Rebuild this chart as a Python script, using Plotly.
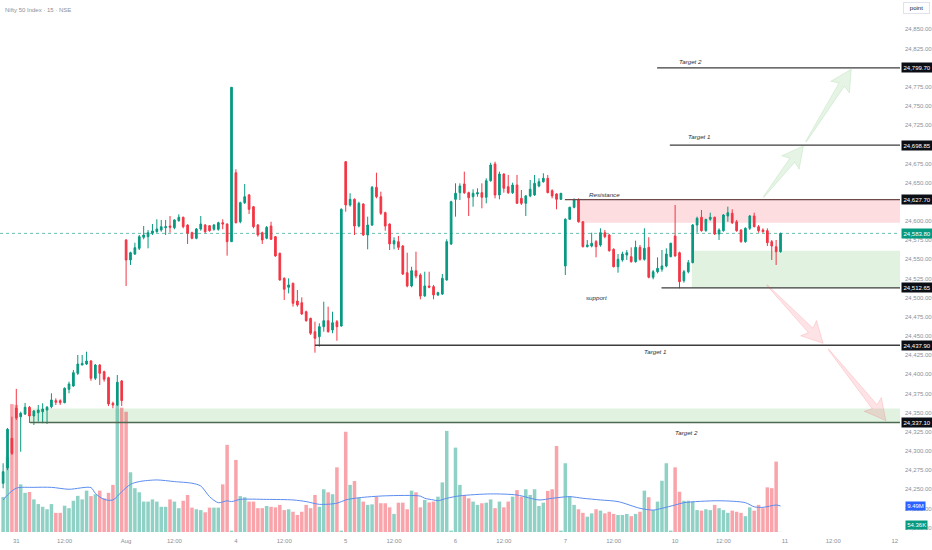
import math
import plotly.graph_objects as go

TITLE = "Nifty 50 Index · 15 · NSE"

# bar index (15-minute bars), 0 = first bar of "31"
BAR_INDEX = list(range(-3, 175))

OPEN = [24257.8, 24277.8, 24316.5, 24356.0, 24344.5, 24348.2, 24357.0, 24345.6, 24349.9, 24351.2,
        24353.4, 24357.7, 24365.6, 24365.6, 24363.0, 24380.4, 24384.7, 24401.3, 24412.1, 24413.4,
        24417.3, 24394.8, 24412.1, 24403.4, 24395.6, 24362.2, 24360.0, 24391.3,
        24575.2, 24549.1, 24556.9, 24564.3, 24578.7, 24579.5, 24583.9, 24586.0, 24588.2, 24591.2,
        24593.4, 24591.2, 24600.3, 24604.8, 24594.7, 24584.7, 24577.4, 24589.5, 24594.7, 24593.8,
        24589.1, 24589.1, 24597.7, 24596.0, 24573.0,
        24662.9, 24599.0, 24623.8, 24633.9, 24618.6, 24594.7, 24584.7, 24577.4, 24593.4, 24579.5,
        24557.8, 24525.2, 24513.5, 24518.7, 24495.6, 24493.4, 24481.6, 24473.0, 24455.6, 24449.0,
        24462.1, 24469.9, 24457.8, 24468.6, 24463.0,
        24677.3, 24620.8, 24628.2, 24593.4, 24622.1, 24581.7, 24594.7, 24643.9, 24631.6, 24610.8,
        24596.0, 24570.0, 24573.0, 24567.3, 24532.5, 24515.2, 24535.1, 24529.5, 24502.1, 24515.2,
        24514.3, 24503.5, 24504.7, 24523.0, 24570.0,
        24628.2, 24636.9, 24648.2, 24636.9, 24631.6, 24635.2, 24636.9, 24630.9, 24652.5, 24674.3,
        24633.9, 24661.2, 24644.7, 24636.9, 24646.9, 24629.5, 24623.0, 24632.6, 24633.9, 24645.6,
        24651.2, 24655.6, 24639.5, 24635.2, 24628.2,
        24541.3, 24602.2, 24617.8, 24627.3, 24599.0, 24566.4, 24567.3, 24573.0, 24568.6, 24584.7,
        24581.7, 24563.0, 24540.3, 24549.1, 24555.6, 24553.4, 24546.9, 24565.6, 24550.0, 24565.6,
        24526.5, 24533.8, 24537.0, 24541.3, 24553.4,
        24580.4, 24558.6, 24522.1, 24533.8, 24545.6, 24594.7, 24604.8, 24587.3, 24602.2, 24604.8,
        24583.0, 24587.3, 24606.5, 24610.0, 24599.0, 24588.2, 24573.0, 24590.4, 24606.5, 24592.5,
        24588.2, 24587.3, 24573.0, 24566.4, 24559.9]

HIGH = [24283.9, 24330.0, 24344.7, 24381.0, 24351.2, 24362.6, 24358.6, 24353.4, 24360.0, 24362.2,
        24358.6, 24375.2, 24368.7, 24367.4, 24383.0, 24390.3, 24405.6, 24425.2, 24425.2, 24429.5,
        24418.6, 24413.4, 24413.4, 24404.7, 24396.9, 24364.3, 24399.1, 24392.6,
        24576.1, 24559.9, 24571.6, 24581.7, 24593.4, 24588.2, 24596.0, 24602.2, 24601.3, 24601.3,
        24606.5, 24602.2, 24608.7, 24605.6, 24595.6, 24586.0, 24590.8, 24606.5, 24596.0, 24594.7,
        24596.0, 24599.0, 24602.2, 24596.9, 24774.7,
        24667.4, 24625.1, 24648.2, 24635.2, 24619.5, 24596.0, 24586.0, 24593.4, 24599.0, 24580.4,
        24558.6, 24526.5, 24525.2, 24519.5, 24510.0, 24500.4, 24483.0, 24473.8, 24468.6, 24466.5,
        24494.7, 24488.2, 24481.6, 24470.8, 24616.5,
        24678.2, 24636.1, 24629.5, 24625.1, 24623.0, 24605.6, 24645.6, 24662.9, 24638.2, 24612.1,
        24596.9, 24578.7, 24580.4, 24568.6, 24558.6, 24540.3, 24559.9, 24531.7, 24533.8, 24533.8,
        24516.5, 24507.7, 24530.8, 24576.1, 24626.4,
        24649.1, 24649.1, 24664.3, 24638.2, 24641.3, 24642.6, 24649.1, 24655.6, 24676.0, 24677.3,
        24664.3, 24662.2, 24660.0, 24649.9, 24660.0, 24640.4, 24633.9, 24653.4, 24660.0, 24655.6,
        24662.2, 24660.0, 24641.3, 24636.1, 24636.1,
        24603.5, 24618.6, 24629.5, 24629.5, 24599.9, 24575.2, 24584.7, 24575.2, 24590.4, 24588.2,
        24583.0, 24564.3, 24556.9, 24559.9, 24562.1, 24565.6, 24574.3, 24568.6, 24590.4, 24578.7,
        24536.0, 24552.6, 24562.1, 24564.3, 24571.6,
        24620.8, 24559.9, 24536.0, 24549.1, 24596.0, 24605.6, 24614.3, 24602.2, 24610.8, 24605.6,
        24590.4, 24609.1, 24618.6, 24615.2, 24601.3, 24589.1, 24591.7, 24607.8, 24610.8, 24594.7,
        24590.4, 24590.4, 24575.2, 24575.2, 24584.7]

LOW = [24251.3, 24275.0, 24294.7, 24340.4, 24299.0, 24346.9, 24336.5, 24333.9, 24338.2, 24336.1,
       24335.2, 24355.7, 24360.0, 24360.0, 24362.2, 24375.2, 24383.8, 24399.1, 24412.1, 24412.1,
       24391.6, 24392.6, 24386.0, 24390.3, 24358.6, 24355.7, 24358.6, 24358.6,
       24515.2, 24542.6, 24555.6, 24562.1, 24576.1, 24564.3, 24581.7, 24584.7, 24586.0, 24581.7,
       24584.7, 24589.1, 24599.0, 24590.4, 24570.0, 24576.1, 24576.1, 24587.3, 24583.9, 24586.0,
       24587.3, 24587.3, 24589.1, 24554.7, 24573.0,
       24596.9, 24596.9, 24622.1, 24609.1, 24590.4, 24579.5, 24570.0, 24576.1, 24575.2, 24553.4,
       24522.1, 24496.9, 24505.6, 24488.2, 24488.2, 24477.4, 24468.6, 24451.3, 24428.2, 24436.0,
       24455.6, 24454.3, 24453.5, 24443.8, 24462.1,
       24612.1, 24618.6, 24581.7, 24591.7, 24580.4, 24563.0, 24593.4, 24629.5, 24607.8, 24587.3,
       24562.1, 24563.0, 24562.1, 24529.5, 24513.5, 24513.5, 24525.2, 24497.8, 24501.2, 24512.2,
       24497.8, 24502.1, 24503.5, 24522.1, 24568.6,
       24605.6, 24627.3, 24635.2, 24606.5, 24618.6, 24631.6, 24616.5, 24623.0, 24651.2, 24629.5,
       24628.2, 24636.9, 24635.2, 24635.2, 24622.1, 24620.8, 24606.5, 24630.9, 24632.6, 24643.9,
       24649.9, 24636.1, 24629.5, 24615.2, 24627.3,
       24529.5, 24601.3, 24616.5, 24597.7, 24565.6, 24565.6, 24565.6, 24552.6, 24566.4, 24577.4,
       24559.9, 24539.5, 24532.5, 24546.9, 24549.1, 24545.6, 24545.6, 24548.2, 24548.2, 24525.2,
       24523.9, 24531.7, 24533.8, 24539.5, 24552.6,
       24553.4, 24512.2, 24519.5, 24531.7, 24544.8, 24584.7, 24586.0, 24586.0, 24600.3, 24581.7,
       24575.2, 24586.0, 24599.0, 24596.0, 24586.0, 24571.6, 24571.6, 24588.2, 24591.7, 24584.7,
       24584.7, 24567.3, 24549.1, 24542.6, 24558.6]

CLOSE = [24273.0, 24328.3, 24296.9, 24343.0, 24349.1, 24357.0, 24345.6, 24352.1, 24353.4, 24354.7,
         24357.0, 24366.5, 24363.5, 24363.0, 24381.7, 24387.3, 24402.1, 24413.4, 24414.3, 24417.3,
         24394.8, 24412.1, 24401.3, 24393.5, 24361.3, 24360.0, 24389.6, 24365.6,
         24549.1, 24558.6, 24565.1, 24579.5, 24581.7, 24584.7, 24586.9, 24589.5, 24592.5, 24592.5,
         24591.7, 24601.3, 24604.8, 24592.5, 24583.9, 24577.4, 24589.5, 24596.0, 24586.0, 24587.3,
         24594.7, 24597.7, 24596.0, 24573.0, 24774.3,
         24597.7, 24623.8, 24631.6, 24615.2, 24592.5, 24581.7, 24575.2, 24591.7, 24576.1, 24554.3,
         24523.0, 24510.9, 24516.5, 24492.6, 24490.4, 24478.7, 24469.9, 24453.5, 24447.0, 24462.1,
         24469.9, 24455.6, 24467.3, 24462.1, 24615.2,
         24620.8, 24628.2, 24593.4, 24623.0, 24581.7, 24594.7, 24643.9, 24631.6, 24610.0, 24593.4,
         24570.0, 24574.3, 24565.6, 24530.8, 24515.2, 24535.1, 24528.2, 24502.1, 24515.2, 24513.5,
         24503.5, 24506.5, 24525.2, 24573.0, 24625.1,
         24636.1, 24645.6, 24636.9, 24630.3, 24636.1, 24636.9, 24630.9, 24652.5, 24673.0, 24633.9,
         24661.2, 24642.6, 24636.9, 24646.9, 24623.0, 24623.0, 24632.6, 24641.3, 24649.1, 24651.2,
         24655.6, 24636.9, 24632.6, 24628.2, 24636.1,
         24602.2, 24617.8, 24627.3, 24599.0, 24566.4, 24568.6, 24570.9, 24566.4, 24584.7, 24579.5,
         24561.2, 24540.3, 24550.0, 24556.9, 24558.6, 24546.9, 24565.6, 24550.0, 24564.3, 24526.5,
         24533.8, 24538.2, 24541.3, 24556.9, 24570.9,
         24554.3, 24520.8, 24533.8, 24545.6, 24594.7, 24603.5, 24587.3, 24602.2, 24604.8, 24583.0,
         24588.2, 24607.8, 24610.8, 24597.7, 24587.3, 24573.0, 24590.4, 24606.5, 24592.5, 24587.3,
         24586.0, 24571.6, 24567.3, 24559.9, 24583.8]

# volume, millions
VOLUME_M = [12.8, 27.5, 46.7, 46.4, 17.4, 14.3, 14.6, 11.9, 10.2, 9.2,
            8.3, 10.2, 7.0, 7.0, 9.6, 8.7, 11.4, 13.2, 11.9, 15.1,
            13.1, 13.8, 15.1, 12.3, 14.3, 17.2, 46.4, 45.4,
            43.9, 21.8, 16.0, 14.5, 11.1, 11.1, 11.9, 11.1, 9.2, 9.2,
            11.9, 11.1, 8.7, 11.4, 13.5, 8.9, 8.3, 8.0, 7.2, 8.9,
            8.9, 8.9, 17.4, 31.8, 0.5,
            26.3, 13.1, 12.7, 11.1, 11.1, 8.7, 8.7, 9.5, 9.2, 9.0,
            9.9, 8.0, 8.3, 7.4, 6.2, 7.4, 9.9, 8.7, 13.5, 9.2,
            15.6, 14.5, 13.8, 23.6, 0.5,
            36.6, 17.2, 18.6, 12.5, 11.1, 9.9, 10.1, 12.9, 10.5, 10.5,
            9.0, 6.6, 10.7, 10.7, 8.3, 15.1, 14.5, 9.0, 11.7, 10.8,
            11.1, 12.9, 18.1, 36.9, 0.5,
            30.8, 17.2, 13.5, 12.3, 11.1, 9.9, 10.5, 10.7, 11.9, 8.7,
            11.1, 9.0, 11.1, 12.9, 15.3, 12.9, 15.6, 13.5, 15.6, 9.5,
            10.7, 15.0, 15.6, 31.4, 0.5,
            25.1, 13.1, 9.9, 8.3, 7.0, 5.6, 6.8, 8.3, 7.8, 6.8,
            7.4, 6.6, 6.2, 6.2, 6.6, 5.8, 6.6, 7.4, 15.1, 12.7,
            8.0, 11.1, 18.7, 25.1, 0.5,
            23.6, 14.7, 11.4, 11.4, 11.1, 8.0, 7.8, 8.3, 8.0, 9.9,
            8.7, 8.0, 7.0, 7.8, 7.4, 7.0, 5.8, 9.0, 7.8, 9.9,
            8.7, 16.3, 16.0, 25.7, 0.05436]

# volume moving average, read at these bars (millions)
MA_INDEX = [-3, -2, 0, 4, 8, 12, 17, 18, 20, 22, 24, 26, 28, 32, 36, 40, 42, 44, 46, 48,
            49, 51, 57, 63, 66, 69, 73, 75, 78, 84, 92, 93, 95, 96, 98, 101, 108, 114, 119,
            122, 126, 129, 133, 137, 142, 145, 147, 150, 152, 160, 166, 168, 170, 173, 174]
MA_VALUE_M = [11.7, 13.5, 16.0, 16.3, 16.3, 15.6, 16.2, 14.1, 11.9, 11.7, 14.7, 17.4, 18.4, 19.0,
              18.4, 17.8, 16.8, 12.9, 10.7, 11.4, 11.1, 11.9, 11.9, 11.7, 11.1, 10.1, 10.5, 11.7,
              12.5, 13.2, 13.1, 12.3, 11.7, 11.4, 12.3, 13.2, 13.9, 13.5, 11.7, 12.3, 12.9, 12.3,
              11.7, 11.1, 8.65, 8.0, 8.65, 9.86, 10.7, 11.4, 10.7, 9.2, 9.0, 9.86, 9.49]

DAY_TICKS = [0, 25, 50, 75, 100, 125, 150, 175, 200]
DAY_LABELS = ["31", "Aug", "4", "5", "6", "7", "10", "11", "12"]
NOON_TICKS = [11, 36, 61, 86, 111, 136, 161, 186]
NOON_LABEL = "12:00"
# price ticks (those fully hidden behind level labels in the picture are left out)
PRICE_TICKS = [24200, 24225, 24250, 24275, 24300, 24325, 24350, 24375, 24400, 24425, 24450,
               24475, 24500, 24525, 24550, 24575, 24600, 24650, 24675, 24725,
               24750, 24775, 24825, 24850]

LAST_PRICE = 24583.80
LAST_MA_LABEL = "9.49M"
LAST_VOL_LABEL = "54.36K"

# drawn levels: (price, start bar, colour)
LEVELS = [(24799.70, 145.9, "#3d3d3d"),
          (24698.85, 148.8, "#3d3d3d"),
          (24627.70, 124.9, "#6e4a4a"),
          (24512.65, 146.9, "#3d3d3d"),
          (24437.90, 68.0, "#3d3d3d"),
          (24337.10, 3.1, "#4d6a52")]
# zones: (start bar, low, high, fill)
ZONES = [(128.1, 24597.8, 24627.7, "rgba(242,54,69,0.17)"),
         (153.8, 24512.65, 24561.2, "rgba(76,175,80,0.17)"),
         (3.1, 24337.1, 24355.5, "rgba(76,175,80,0.17)")]
# texts: (text, bar, price)
TEXTS = [("Target 2", 153.4, 24808.6),
         ("Target 1", 155.4, 24709.9),
         ("Resistance", 134.0, 24633.9),
         ("support", 132.2, 24500.4),
         ("Target 1", 145.4, 24429.5),
         ("Target 2", 152.5, 24323.8)]
# arrows: (tail bar, tail price, tip bar, tip price, kind)
ARROWS = [(170.1, 24630.9, 179.2, 24697.8, "up"),
          (179.8, 24703.4, 190.1, 24797.8, "up"),
          (170.9, 24516.5, 183.7, 24440.4, "down"),
          (184.9, 24432.6, 198.0, 24339.5, "down")]

UP = "#089981"
DOWN = "#f23645"
AXIS_TXT = "#8b8f99"

W, H = 932, 550
M_L, M_R, M_T, M_B = 0, 32, 0, 18
PLOT_W, PLOT_H = W - M_L - M_R, H - M_T - M_B
X_RANGE = [-3.71, 201.2]
PRICE_RANGE = [24194.3, 24888.2]
VOL_RANGE = [0, 194.2]


def to_px(i, p):
    x = (i - X_RANGE[0]) / (X_RANGE[1] - X_RANGE[0]) * PLOT_W
    y = (p - PRICE_RANGE[0]) / (PRICE_RANGE[1] - PRICE_RANGE[0]) * PLOT_H
    return x, y


def to_data(x, y):
    return (X_RANGE[0] + x / PLOT_W * (X_RANGE[1] - X_RANGE[0]),
            PRICE_RANGE[0] + y / PLOT_H * (PRICE_RANGE[1] - PRICE_RANGE[0]))


def arrow_path(ti, tp, hi, hp, head_len=18, head_w=11, shaft_w=3.2, tail_w=0.4):
    tx, ty = to_px(ti, tp)
    hx, hy = to_px(hi, hp)
    dx, dy = hx - tx, hy - ty
    L = math.hypot(dx, dy)
    ux, uy = dx / L, dy / L
    nx, ny = -uy, ux
    bx, by = hx - ux * head_len, hy - uy * head_len
    pts = [(tx + nx * tail_w, ty + ny * tail_w),
           (bx + nx * shaft_w, by + ny * shaft_w),
           (bx + nx * head_w - ux * 3, by + ny * head_w - uy * 3),
           (hx, hy),
           (bx - nx * head_w - ux * 3, by - ny * head_w - uy * 3),
           (bx - nx * shaft_w, by - ny * shaft_w),
           (tx - nx * tail_w, ty - ny * tail_w)]
    d = []
    for k, (x, y) in enumerate(pts):
        i, p = to_data(x, y)
        d.append(("M" if k == 0 else "L") + f"{i:.3f},{p:.3f}")
    return " ".join(d) + " Z"


fig = go.Figure()

vol_colors = ["rgba(8,153,129,0.45)" if c >= o else "rgba(242,54,69,0.45)"
              for o, c in zip(OPEN, CLOSE)]
fig.add_trace(go.Bar(x=BAR_INDEX, y=VOLUME_M, marker=dict(color=vol_colors, line_width=0),
                     width=0.8, xaxis="x", yaxis="y", hoverinfo="skip"))
fig.add_trace(go.Scatter(x=MA_INDEX, y=MA_VALUE_M, mode="lines",
                         line=dict(color="#5b8cf0", width=1, shape="spline", smoothing=0.8),
                         xaxis="x", yaxis="y", hoverinfo="skip"))
fig.add_trace(go.Candlestick(x=BAR_INDEX, open=OPEN, high=HIGH, low=LOW, close=CLOSE,
                             xaxis="x", yaxis="y2",
                             increasing=dict(line=dict(color=UP, width=1), fillcolor=UP),
                             decreasing=dict(line=dict(color=DOWN, width=1), fillcolor=DOWN),
                             whiskerwidth=0, hoverinfo="skip"))

shapes = []
for x0, lo, hi, fill in ZONES:
    shapes.append(dict(type="rect", xref="x", yref="y2", x0=x0, x1=X_RANGE[1] + 5, y0=lo, y1=hi,
                       fillcolor=fill, line_width=0, layer="below"))
shapes.append(dict(type="line", xref="paper", yref="y2", x0=0, x1=1, y0=LAST_PRICE, y1=LAST_PRICE,
                   line=dict(color=UP, width=1, dash="dot"), opacity=0.6, layer="below"))
for price, x0, col in LEVELS:
    shapes.append(dict(type="line", xref="x", yref="y2", x0=x0, x1=X_RANGE[1] + 5, y0=price, y1=price,
                       line=dict(color=col, width=1.3), layer="above"))
for ti, tp, hi, hp, kind in ARROWS:
    if kind == "up":
        fill, edge = "rgba(76,175,80,0.14)", "rgba(76,175,80,0.22)"
    else:
        fill, edge = "rgba(242,54,69,0.14)", "rgba(242,54,69,0.22)"
    shapes.append(dict(type="path", xref="x", yref="y2", path=arrow_path(ti, tp, hi, hp),
                       fillcolor=fill, line=dict(color=edge, width=0.7), layer="above"))

ann = []
for text, i, p in TEXTS:
    ann.append(dict(xref="x", yref="y2", x=i, y=p, text=f"<i>{text}</i>", showarrow=False,
                    font=dict(size=6.2, color="#2a2e39", family="Liberation Sans"),
                    xanchor="center", yanchor="middle"))
for price, x0, col in LEVELS:
    ann.append(dict(xref="paper", yref="y2", x=1, y=price, xanchor="left", yanchor="middle",
                    xshift=1, text=f"{price:,.2f}", showarrow=False, bgcolor="#0c0e15",
                    font=dict(size=6, color="white", family="Liberation Sans"), borderpad=1.5))
ann.append(dict(xref="paper", yref="y2", x=1, y=LAST_PRICE, xanchor="left", yanchor="middle",
                xshift=1, text=f"{LAST_PRICE:,.2f}", showarrow=False, bgcolor=UP,
                font=dict(size=6, color="white", family="Liberation Sans"), borderpad=1.5))
ann.append(dict(xref="paper", yref="y", x=1, y=MA_VALUE_M[-1], xanchor="left", yanchor="middle",
                xshift=5, text=LAST_MA_LABEL, showarrow=False, bgcolor="#2962ff",
                font=dict(size=6, color="white", family="Liberation Sans"), borderpad=1.2))
ann.append(dict(xref="paper", yref="y", x=1, y=VOLUME_M[-1], xanchor="left", yanchor="middle",
                xshift=5, yshift=7, text=LAST_VOL_LABEL, showarrow=False, bgcolor=UP,
                font=dict(size=6, color="white", family="Liberation Sans"), borderpad=1.2))
ann.append(dict(xref="paper", yref="paper", x=0, y=1, xanchor="left", yanchor="top", xshift=3,
                yshift=-5, text=TITLE, showarrow=False,
                font=dict(size=6, color="#8b8f99", family="Liberation Sans")))
ann.append(dict(xref="paper", yref="paper", x=1, y=1, xanchor="left", yanchor="top", xshift=3,
                yshift=-2, text="point", showarrow=False, width=21, bgcolor="white",
                bordercolor="#e0e3eb", borderwidth=1, borderpad=2,
                font=dict(size=6, color="#131722", family="Liberation Sans")))

fig.update_layout(
    width=W, height=H, margin=dict(l=M_L, r=M_R, t=M_T, b=M_B),
    paper_bgcolor="white", plot_bgcolor="white", showlegend=False,
    boxgap=0.45,
    shapes=shapes, annotations=ann,
    xaxis=dict(range=X_RANGE, tickvals=DAY_TICKS + NOON_TICKS,
               ticktext=DAY_LABELS + [NOON_LABEL] * len(NOON_TICKS),
               showgrid=False, zeroline=False, showline=False, ticks="", ticklabelstandoff=4,
               tickfont=dict(size=6, color=AXIS_TXT, family="Liberation Sans"),
               rangeslider=dict(visible=False), fixedrange=True),
    yaxis=dict(range=VOL_RANGE, visible=False, fixedrange=True),
    yaxis2=dict(range=PRICE_RANGE, overlaying="y", side="right", tickvals=PRICE_TICKS,
                ticktext=[f"{v:,.2f}" for v in PRICE_TICKS], showgrid=False, zeroline=False,
                showline=False, ticks="", ticklabelstandoff=4,
                tickfont=dict(size=6, color=AXIS_TXT, family="Liberation Sans"), fixedrange=True),
)

fig.write_html("out.html", config={"displayModeBar": False, "staticPlot": True},
               post_script="document.body.style.margin='0';document.body.style.overflow='hidden';")
